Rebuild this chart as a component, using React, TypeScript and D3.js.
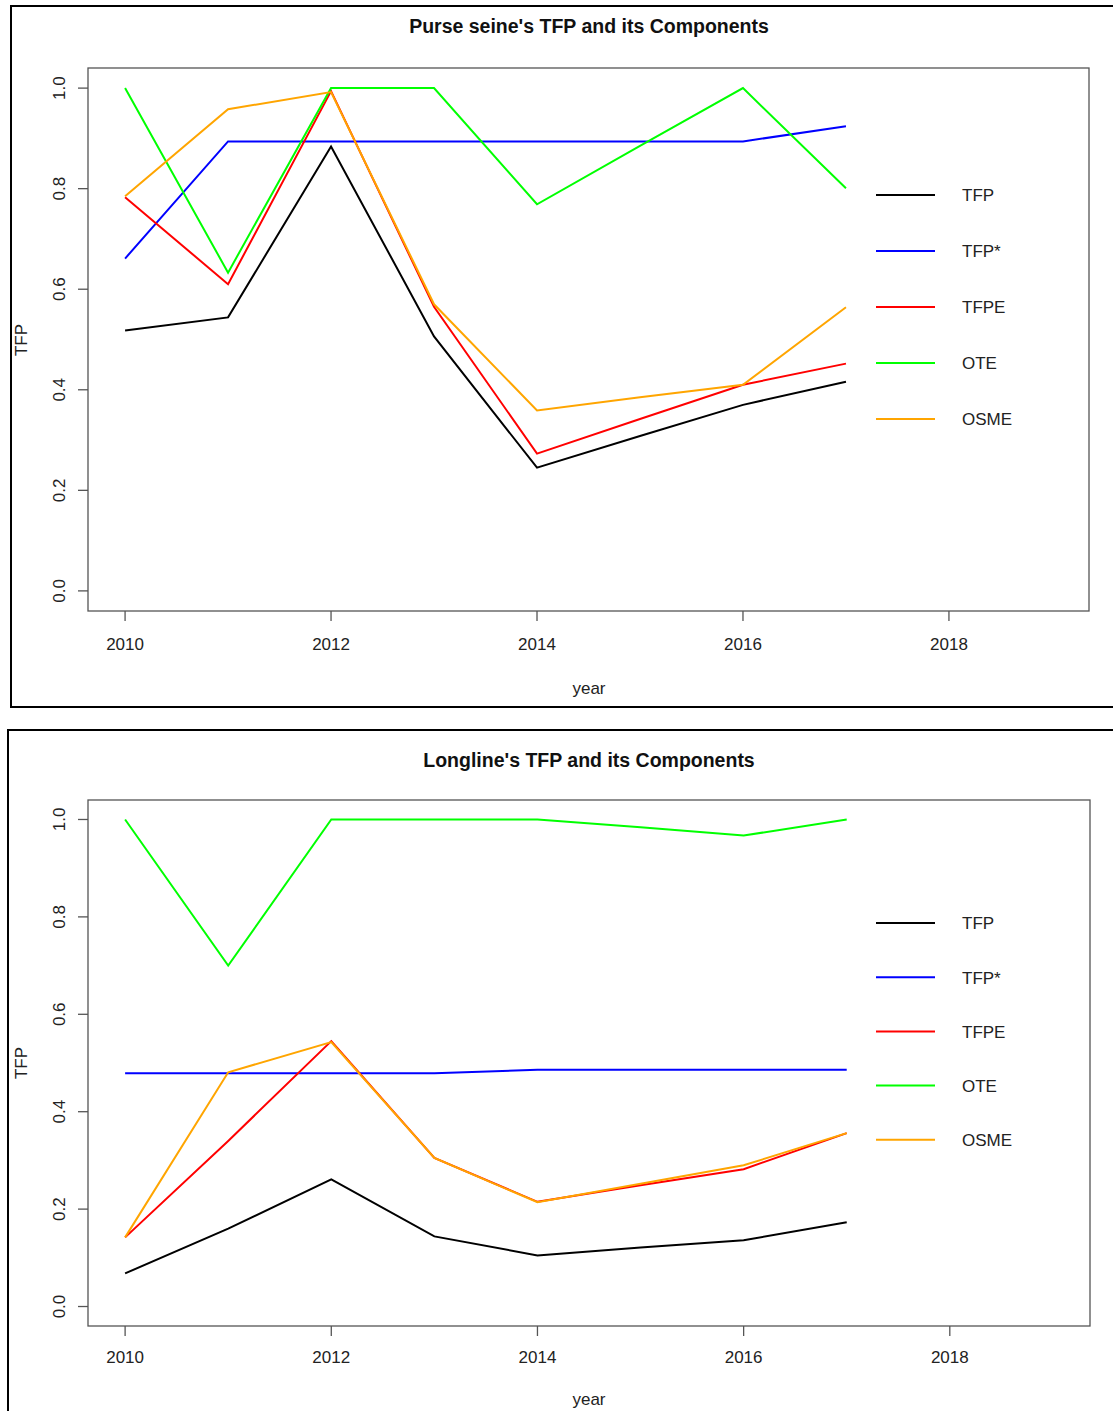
import * as d3 from 'd3'

// ---- data ----
const years = [2010, 2011, 2012, 2013, 2014, 2015, 2016, 2017]
const seriesNames = ['TFP', 'TFP*', 'TFPE', 'OTE', 'OSME']
const seriesColors = ['#000000', '#0000ff', '#ff0000', '#00ff00', '#ffa500']
const xTicks = [2010, 2012, 2014, 2016, 2018]
const yTicks = [0, 0.2, 0.4, 0.6, 0.8, 1.0]

// Purse seine
const psTFP = [0.518, 0.544, 0.884, 0.506, 0.245, 0.308, 0.370, 0.416]
const psTFPstar = [0.661, 0.894, 0.894, 0.894, 0.894, 0.894, 0.894, 0.924]
const psTFPE = [0.783, 0.610, 0.994, 0.565, 0.273, 0.342, 0.410, 0.452]
const psOTE = [1.0, 0.633, 1.0, 1.0, 0.769, 0.885, 1.0, 0.801]
const psOSME = [0.785, 0.958, 0.992, 0.570, 0.359, 0.385, 0.410, 0.564]

// Longline
const llTFP = [0.068, 0.160, 0.261, 0.144, 0.105, 0.121, 0.136, 0.173]
const llTFPstar = [0.479, 0.479, 0.479, 0.479, 0.486, 0.486, 0.486, 0.486]
const llTFPE = [0.142, 0.340, 0.545, 0.305, 0.215, 0.249, 0.282, 0.356]
const llOTE = [1.0, 0.700, 1.0, 1.0, 1.0, 0.984, 0.967, 1.0]
const llOSME = [0.142, 0.481, 0.543, 0.305, 0.214, 0.252, 0.290, 0.356]

const FONT = '"Liberation Sans", Arial, sans-serif'

type Layout = {
  title: string
  frame: { x: number; y: number; h: number }
  plot: { x0: number; x1: number; y0: number; y1: number }
  titleY: number
  xTickY: number
  xLabY: number
  yLabY: number
  legendY: number
  legendStep: number
}

function Panel({ layout, values }: { layout: Layout; values: number[][] }) {
  const { plot } = layout
  // R style 4% axis extension
  const x = d3.scaleLinear().domain([2009.64, 2019.36]).range([plot.x0, plot.x1])
  const y = d3.scaleLinear().domain([-0.04, 1.04]).range([plot.y1, plot.y0])
  const line = d3.line<number>()
    .x((_, i) => x(years[i]))
    .y((d) => y(d))

  return (
    <g>
      <rect x={layout.frame.x} y={layout.frame.y} width={1200} height={layout.frame.h}
        fill="none" stroke="#000" strokeWidth={2} />
      <text x={589} y={layout.titleY} textAnchor="middle" dominantBaseline="middle"
        style={{ fontSize: 19.5, fontWeight: 700, fontFamily: FONT }} fill="#111">
        {layout.title}
      </text>

      {values.map((vals, i) => (
        <path key={i} d={line(vals) ?? ''} fill="none" stroke={seriesColors[i]} strokeWidth={2} />
      ))}

      <rect x={plot.x0} y={plot.y0} width={plot.x1 - plot.x0} height={plot.y1 - plot.y0}
        fill="none" stroke="#555" strokeWidth={1.3} />

      {/* x axis */}
      {xTicks.map((t) => (
        <g key={t}>
          <line x1={x(t)} x2={x(t)} y1={plot.y1} y2={plot.y1 + 10} stroke="#555" strokeWidth={1.3} />
          <text x={x(t)} y={layout.xTickY} textAnchor="middle" dominantBaseline="middle"
            style={{ fontSize: 17, fontFamily: FONT }} fill="#222">{t}</text>
        </g>
      ))}
      <text x={589} y={layout.xLabY} textAnchor="middle" dominantBaseline="middle"
        style={{ fontSize: 17, fontFamily: FONT }} fill="#222">year</text>

      {/* y axis */}
      {yTicks.map((t) => (
        <g key={t}>
          <line x1={plot.x0 - 10} x2={plot.x0} y1={y(t)} y2={y(t)} stroke="#555" strokeWidth={1.3} />
          <text transform={`translate(61,${y(t)}) rotate(-90)`} textAnchor="middle" dominantBaseline="middle"
            style={{ fontSize: 17, fontFamily: FONT }} fill="#222">{t.toFixed(1)}</text>
        </g>
      ))}
      <text transform={`translate(23,${layout.yLabY}) rotate(-90)`} textAnchor="middle" dominantBaseline="middle"
        style={{ fontSize: 17, fontFamily: FONT }} fill="#222">TFP</text>

      {/* legend */}
      {seriesNames.map((name, i) => {
        const ly = layout.legendY + i * layout.legendStep
        return (
          <g key={name}>
            <line x1={876} x2={935} y1={ly} y2={ly} stroke={seriesColors[i]} strokeWidth={2} />
            <text x={962} y={ly + 2} dominantBaseline="middle"
              style={{ fontSize: 17, fontFamily: FONT }} fill="#222">{name}</text>
          </g>
        )
      })}
    </g>
  )
}

const topLayout: Layout = {
  title: "Purse seine's TFP and its Components",
  frame: { x: 11, y: 6, h: 701 },
  plot: { x0: 88, x1: 1089, y0: 68, y1: 611 },
  titleY: 28,
  xTickY: 646,
  xLabY: 690,
  yLabY: 340,
  legendY: 195,
  legendStep: 56,
}

const bottomLayout: Layout = {
  title: "Longline's TFP and its Components",
  frame: { x: 8, y: 730, h: 800 },
  plot: { x0: 88, x1: 1090, y0: 800, y1: 1326 },
  titleY: 762,
  xTickY: 1359,
  xLabY: 1401,
  yLabY: 1063,
  legendY: 923,
  legendStep: 54.2,
}

export default function App() {
  return (
    <svg width={1113} height={1411}
      style={{ position: 'absolute', left: 0, top: 0, background: '#fff', display: 'block' }}>
      <rect width={1113} height={1411} fill="#fff" />
      <Panel layout={topLayout} values={[psTFP, psTFPstar, psTFPE, psOTE, psOSME]} />
      <Panel layout={bottomLayout} values={[llTFP, llTFPstar, llTFPE, llOTE, llOSME]} />
    </svg>
  )
}
